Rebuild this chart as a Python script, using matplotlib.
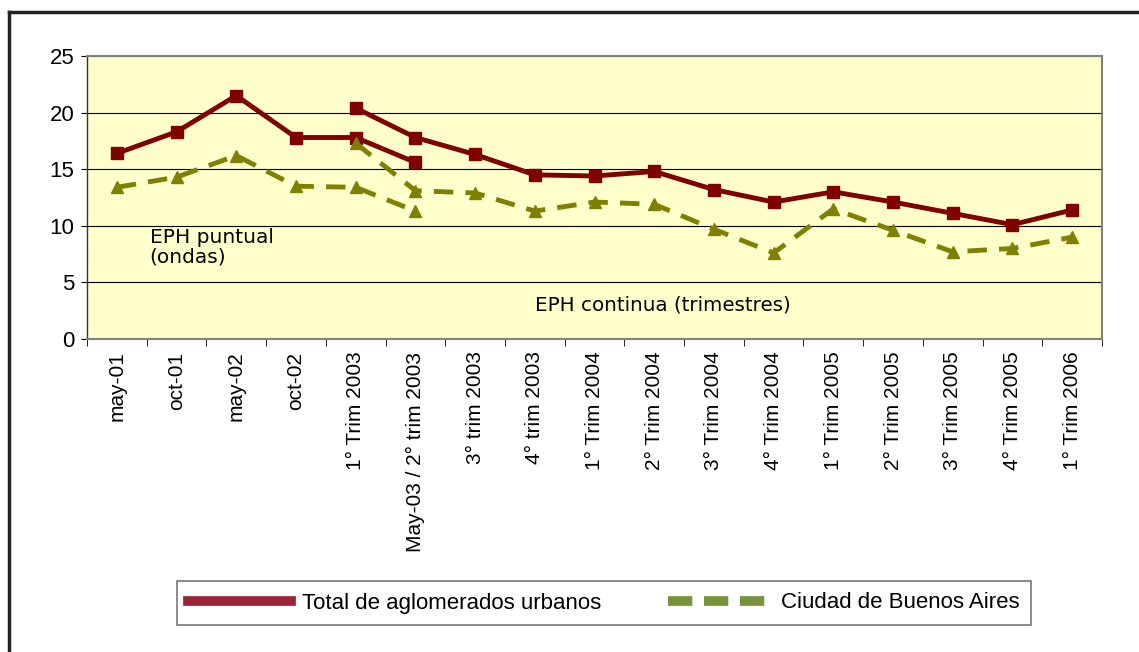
import matplotlib.pyplot as plt
from matplotlib.lines import Line2D
import numpy as np

categories = ['may-01', 'oct-01', 'may-02', 'oct-02', '1° Trim 2003',
              'May-03 / 2° trim 2003', '3° trim 2003', '4° trim 2003',
              '1° Trim 2004', '2° Trim 2004', '3° Trim 2004', '4° Trim 2004',
              '1° Trim 2005', '2° Trim 2005', '3° Trim 2005', '4° Trim 2005',
              '1° Trim 2006']

# EPH puntual (ondas): positions 0-5
total_puntual = [16.4, 18.3, 21.5, 17.8, 17.8, 15.6]
caba_puntual = [13.4, 14.3, 16.2, 13.5, 13.4, 11.3]

# EPH continua (trimestres): positions 4-16
total_continua = [20.4, 17.8, 16.3, 14.5, 14.4, 14.8, 13.2, 12.1, 13.0,
                  12.1, 11.1, 10.1, 11.4]
caba_continua = [17.3, 13.1, 12.9, 11.3, 12.1, 11.9, 9.7, 7.6, 11.5,
                 9.6, 7.7, 8.0, 9.0]

red = '#800000'
olive = '#808000'

fig = plt.figure(figsize=(11.39, 6.52), dpi=100)
ax = fig.add_axes([87 / 1139, 1 - 339 / 652, (1102 - 87) / 1139, (339 - 56) / 652])
ax.set_facecolor('#FFFFCC')

x_p = np.arange(len(total_puntual))
x_c = np.arange(4, 4 + len(total_continua))

ax.plot(x_p, total_puntual, color=red, lw=3.5, marker='s', ms=8, zorder=3)
ax.plot(x_c, total_continua, color=red, lw=3.5, marker='s', ms=8, zorder=3)
ax.plot(x_p, caba_puntual, color=olive, lw=3.5, ls=(0, (4, 2.5)),
        marker='^', ms=8, zorder=3)
ax.plot(x_c, caba_continua, color=olive, lw=3.5, ls=(0, (4, 2.5)),
        marker='^', ms=8, zorder=3)

ax.set_xlim(-0.5, len(categories) - 0.5)
ax.set_ylim(0, 25)
ax.set_yticks(range(0, 26, 5))
ax.yaxis.grid(True, color='black', lw=0.8)
ax.set_axisbelow(True)

ax.set_xticks(np.arange(len(categories)))
ax.set_xticklabels(categories, rotation=90, fontsize=15,
                   family='Liberation Sans')
ax.set_xticks(np.arange(len(categories) + 1) - 0.5, minor=True)
ax.tick_params(axis='x', which='major', length=0, pad=9)
ax.tick_params(axis='x', which='minor', length=5)
ax.tick_params(axis='y', labelsize=16, length=4, pad=5)
for lab in ax.get_yticklabels():
    lab.set_family('Liberation Sans')

for s in ax.spines.values():
    s.set_color('#808080')
    s.set_linewidth(1.5)
ax.spines['left'].set_color('#333333')
ax.spines['left'].set_linewidth(1)

ax.text(0.55, 8.1, 'EPH puntual\n(ondas)', fontsize=14.5, family='DejaVu Sans',
        va='center', linespacing=1.05)
ax.text(7.0, 3.0, 'EPH continua (trimestres)', fontsize=14.3,
        family='DejaVu Sans', va='center')

handles = [Line2D([], [], color='#9B2335', lw=7),
           Line2D([], [], color='#77933C', lw=7, ls=(0, (2.5, 1.2)))]
leg = fig.legend(handles, ['Total de aglomerados urbanos', 'Ciudad de Buenos Aires'],
                 loc='center', bbox_to_anchor=(604 / 1139, 1 - 603 / 652),
                 ncol=2, frameon=True, fancybox=False, handlelength=4.6,
                 handletextpad=0.5, columnspacing=3,
                 prop={'family': 'Liberation Sans', 'size': 16},
                 borderpad=0.5)
leg.get_frame().set_edgecolor('#555555')
leg.get_frame().set_linewidth(1.2)

# outer chart frame
fig.add_artist(Line2D([9 / 1139, 9 / 1139], [0, 1 - 12 / 652],
                      transform=fig.transFigure, color='#222222', lw=2.5))
fig.add_artist(Line2D([9 / 1139, 1], [1 - 12 / 652, 1 - 12 / 652],
                      transform=fig.transFigure, color='#222222', lw=2.5))

fig.savefig('out.png', dpi=100)
